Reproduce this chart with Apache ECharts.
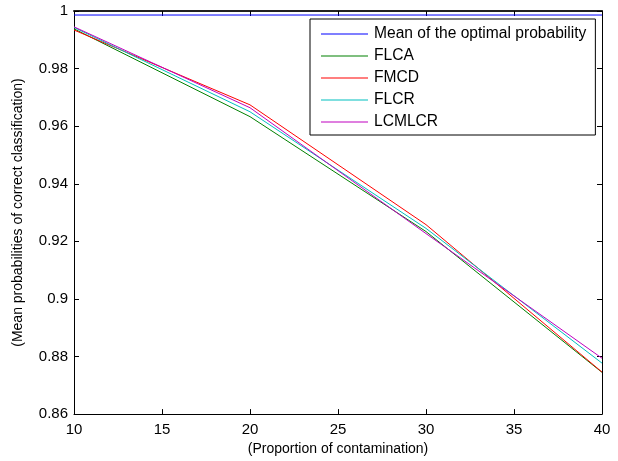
<!DOCTYPE html>
<html>
<head>
<meta charset="utf-8">
<script src="https://cdn.jsdelivr.net/npm/echarts@6/dist/echarts.min.js"></script>
<style>
  html, body { margin: 0; padding: 0; background: #fff; }
  #chart { width: 618px; height: 461px; }
</style>
</head>
<body>
<div id="chart"></div>
<script>
// Proportion of contamination (x positions)
const proportions = [10, 20, 30, 40];

// Mean probabilities of correct classification per method
const meanOptimal = [0.9986, 0.9986, 0.9986, 0.9986];
const flca   = [0.9938, 0.9633, 0.9234, 0.8745];
const fmcd   = [0.9934, 0.9674, 0.9258, 0.8746];
const flcr   = [0.9943, 0.9650, 0.9245, 0.8777];
const lcmlcr = [0.9945, 0.9664, 0.9227, 0.8794];

const seriesNames = ['Mean of the optimal probability', 'FLCA', 'FMCD', 'FLCR', 'LCMLCR'];
const seriesValues = [meanOptimal, flca, fmcd, flcr, lcmlcr];
const seriesColors = ['#0000ff', '#008000', '#ff0000', '#00bfbf', '#bf00bf'];

const FONT = 'Arial, "Liberation Sans", Helvetica, sans-serif';

const chart = echarts.init(document.getElementById('chart'), null, { renderer: 'canvas' });

const fmtNum = v => String(parseFloat(v.toFixed(2)));

const baseAxisLine = { show: true, onZero: false, lineStyle: { color: '#000', width: 1 } };
const innerTick = { show: true, inside: true, length: 5, lineStyle: { color: '#000', width: 1 } };

chart.setOption({
  animation: false,
  backgroundColor: '#fff',
  grid: { left: 74, right: 16, top: 11, bottom: 46, containLabel: false },
  legend: {
    orient: 'vertical',
    left: 310,
    top: 19,
    padding: [6, 9, 4, 11],
    icon: 'rect',
    itemWidth: 47,
    itemHeight: 1,
    itemGap: 4,
    borderColor: '#000',
    borderWidth: 1,
    backgroundColor: '#fff',
    textStyle: { fontFamily: FONT, fontSize: 15.6, lineHeight: 18, color: '#000', padding: [0, 0, 0, 1] },
    data: seriesNames
  },
  xAxis: [
    {
      type: 'value', min: 10, max: 40, interval: 5, position: 'bottom',
      axisLine: baseAxisLine, axisTick: innerTick, splitLine: { show: false },
      axisLabel: { color: '#000', fontFamily: FONT, fontSize: 15, margin: 8 },
      name: '(Proportion of contamination)', nameLocation: 'middle', nameGap: 25,
      nameTextStyle: { color: '#000', fontFamily: FONT, fontSize: 14 }
    },
    {
      type: 'value', min: 10, max: 40, interval: 5, position: 'top',
      axisLine: { show: true, onZero: false, lineStyle: { color: '#222', width: 2 } },
      axisTick: innerTick, splitLine: { show: false },
      axisLabel: { show: false }
    }
  ],
  yAxis: [
    {
      type: 'value', min: 0.86, max: 1, interval: 0.02, position: 'left',
      axisLine: baseAxisLine, axisTick: innerTick, splitLine: { show: false },
      axisLabel: { color: '#000', fontFamily: FONT, fontSize: 15, margin: 6, formatter: fmtNum },
      name: '(Mean probabilities of correct classification)', nameLocation: 'middle', nameGap: 49,
      nameTextStyle: { color: '#000', fontFamily: FONT, fontSize: 14 }
    },
    {
      type: 'value', min: 0.86, max: 1, interval: 0.02, position: 'right',
      axisLine: baseAxisLine, axisTick: innerTick, splitLine: { show: false },
      axisLabel: { show: false }
    }
  ],
  series: seriesNames.map((name, i) => ({
    name: name,
    type: 'line',
    xAxisIndex: 0,
    yAxisIndex: 0,
    symbol: 'none',
    color: seriesColors[i],
    lineStyle: { width: 1, color: seriesColors[i] },
    data: proportions.map((x, j) => [x, seriesValues[i][j]])
  }))
});
</script>
</body>
</html>
